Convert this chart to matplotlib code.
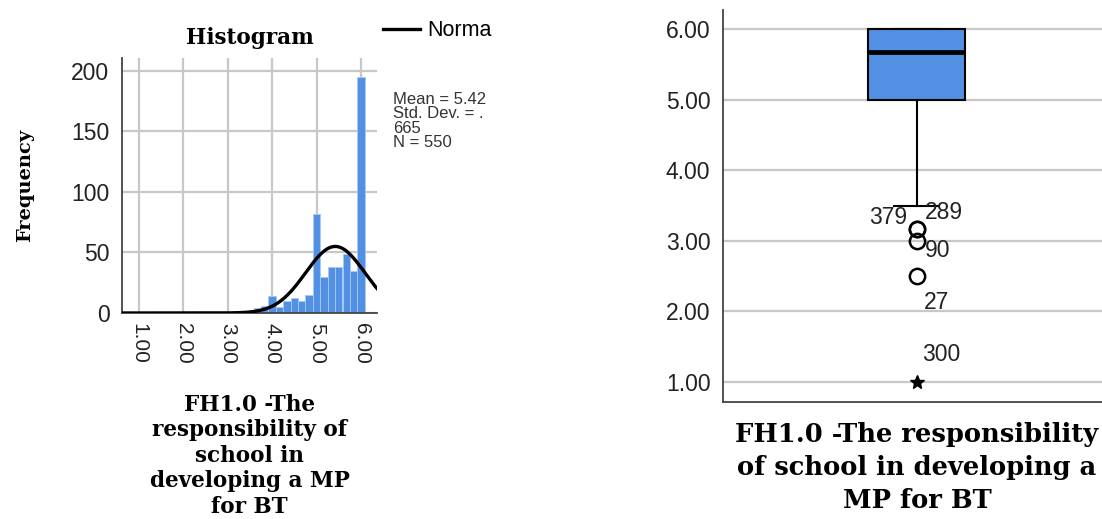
# %%
import numpy as np
import matplotlib
matplotlib.use("Agg")
import matplotlib.pyplot as plt

# %% Data: FH1.0 item scores (mean of six items, steps of 1/6)
score_values = [1.00, 2.50, 3.00, 3.17, 3.50, 3.67, 3.83, 4.00, 4.17, 4.33,
                4.50, 4.67, 4.83, 5.00, 5.17, 5.33, 5.50, 5.67, 5.83, 6.00]
score_counts = [1, 1, 1, 2, 2, 4, 6, 14, 5, 10,
                12, 10, 15, 82, 30, 38, 38, 49, 35, 195]
bin_width = 1 / 6

hist_mean = 5.42
hist_sd = 0.665
hist_n = 550

x_ticks = [1, 2, 3, 4, 5, 6]
y_ticks_hist = [0, 50, 100, 150, 200]
y_ticks_box = [1, 2, 3, 4, 5, 6]

box_q1 = 5.00
box_median = 5.67
box_q3 = 6.00
whisker_low = 3.50
whisker_high = 6.00

outlier_ids = ["379", "289", "90", "27", "300"]
outlier_values = [3.17, 3.17, 3.00, 2.50, 1.00]

hist_label = "FH1.0 -The\nresponsibility of\nschool in\ndeveloping a MP\nfor BT"
box_label = "FH1.0 -The responsibility\nof school in developing a\nMP for BT"

# %% Styles
W, H = 1102, 519
bar_blue = "#5290e3"
grid_grey = "#c8c8c8"
spine_col = "#444444"
tick_col = "#222222"
serif = "DejaVu Serif"
sans = ["Liberation Sans", "DejaVu Sans"]

fig = plt.figure(figsize=(W / 100, H / 100), dpi=100)

# %% Histogram
ax1 = fig.add_axes([122 / W, 1 - 313 / H, 255 / W, 255 / H])
ax1.set_axisbelow(True)
ax1.grid(True, color=grid_grey, lw=1.6)
ax1.bar(score_values, score_counts, width=bin_width, color=bar_blue,
        edgecolor="#a9c9f2", linewidth=0.6, zorder=2)

xlo, xhi = 0.62, 6.36
xs = np.linspace(xlo, xhi, 300)
ys = hist_n * bin_width / (hist_sd * np.sqrt(2 * np.pi)) * \
    np.exp(-0.5 * ((xs - hist_mean) / hist_sd) ** 2)
norm_line, = ax1.plot(xs, ys, color="black", lw=2.4, zorder=3)

ax1.set_xlim(xlo, xhi)
ax1.set_ylim(0, 210.7)
ax1.set_xticks(x_ticks)
ax1.set_xticklabels([f"{v:.2f}" for v in x_ticks], rotation=-90,
                    fontsize=15, family=sans, color=tick_col)
ax1.set_yticks(y_ticks_hist)
ax1.set_yticklabels([str(v) for v in y_ticks_hist], fontsize=16.5,
                    family=sans, color=tick_col)
ax1.tick_params(axis="both", length=0)
ax1.tick_params(axis="x", pad=7)
ax1.tick_params(axis="y", pad=9)
for s in ["top", "right"]:
    ax1.spines[s].set_visible(False)
for s in ["left", "bottom"]:
    ax1.spines[s].set_color(spine_col)
    ax1.spines[s].set_linewidth(1.3)

ax1.set_title("Histogram", family=serif, fontweight="bold", fontsize=15.5,
              pad=10)
ax1.set_ylabel("Frequency", family=serif, fontweight="bold", fontsize=14)
ax1.yaxis.set_label_coords(-0.38, 0.5)
ax1.yaxis.label.set_va("center")
ax1.set_xlabel(hist_label, family=serif, fontweight="bold", fontsize=15.5,
               linespacing=1.2)
ax1.xaxis.set_label_coords(0.5, -0.318)
ax1.xaxis.label.set_va("top")

fig.legend([norm_line], ["Norma"], loc="center left",
           bbox_to_anchor=(383 / W, 1 - 31 / H), frameon=False,
           borderpad=0, borderaxespad=0, handlelength=1.7,
           handletextpad=0.35, prop={"family": sans, "size": 15.5})

sd_text = f"{hist_sd:.3f}".lstrip("0")
stats_text = (f"Mean = {hist_mean:.2f}\n"
              f"Std. Dev. = {sd_text[0]}\n{sd_text[1:]}\n"
              f"N = {hist_n}")
fig.text(393 / W, 1 - 92 / H, stats_text, family=sans, fontsize=12,
         color="#333333", va="top", ha="left", linespacing=0.95)

# %% Boxplot
ax2 = fig.add_axes([723 / W, 1 - 402 / H, 379 / W, 392 / H])
ax2.set_axisbelow(True)
ax2.yaxis.grid(True, color=grid_grey, lw=1.6)

box_stats = [dict(med=box_median, q1=box_q1, q3=box_q3,
                  whislo=whisker_low, whishi=whisker_high, fliers=[])]
ax2.bxp(box_stats, positions=[1], widths=0.5, capwidths=0.23,
        patch_artist=True, showfliers=False,
        boxprops=dict(facecolor=bar_blue, edgecolor="black", lw=1.5),
        medianprops=dict(color="black", lw=3.4),
        whiskerprops=dict(color="black", lw=1.5),
        capprops=dict(color="black", lw=1.5))

iqr = box_q3 - box_q1
label_offsets = {"379": (-7, 8, "right"), "289": (6, 12, "left"),
                 "90": (6, -7, "left"), "27": (5, -19, "left"),
                 "300": (4, 20, "left")}
for oid, val in zip(outlier_ids, outlier_values):
    if val < box_q1 - 3 * iqr:
        ax2.plot(1, val, marker="*", color="black", ms=10, zorder=4)
    else:
        ax2.plot(1, val, marker="o", mfc="none", mec="black", ms=11,
                 mew=1.8, zorder=4)
    dx, dy, ha = label_offsets[oid]
    ax2.annotate(oid, (1, val), xytext=(dx, dy), textcoords="offset points",
                 ha=ha, va="center", fontsize=16.5, family=sans,
                 color=tick_col)

ax2.set_xlim(0, 1.957)
ax2.set_ylim(0.717, 6.27)
ax2.set_xticks([])
ax2.set_yticks(y_ticks_box)
ax2.set_yticklabels([f"{v:.2f}" for v in y_ticks_box], fontsize=16.5,
                    family=sans, color=tick_col)
ax2.tick_params(axis="y", length=0, pad=9)
for s in ["top", "right"]:
    ax2.spines[s].set_visible(False)
for s in ["left", "bottom"]:
    ax2.spines[s].set_color(spine_col)
    ax2.spines[s].set_linewidth(1.3)

ax2.set_xlabel(box_label, family=serif, fontweight="bold", fontsize=18.5,
               linespacing=1.42)
ax2.xaxis.set_label_coords(0.512, -0.05)
ax2.xaxis.label.set_va("top")

fig.savefig("out.png", dpi=100)
